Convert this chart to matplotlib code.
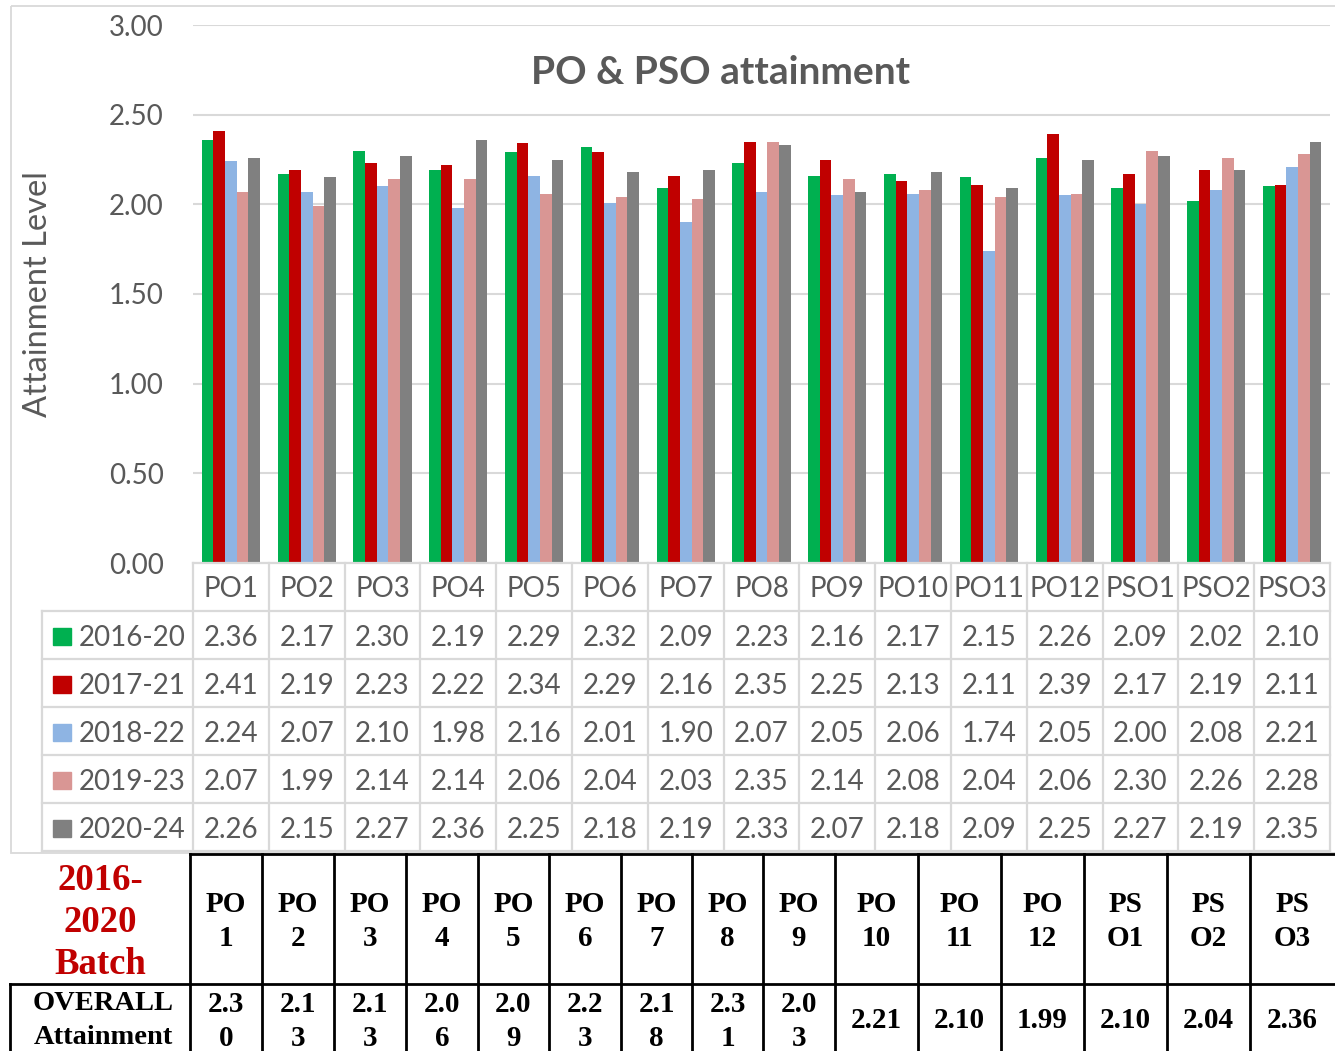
import matplotlib
matplotlib.use("Agg")
import matplotlib.pyplot as plt
from matplotlib import transforms
from matplotlib.lines import Line2D
from matplotlib.patches import Rectangle

# ---------------- data ----------------
categories = ["PO1", "PO2", "PO3", "PO4", "PO5", "PO6", "PO7", "PO8", "PO9",
              "PO10", "PO11", "PO12", "PSO1", "PSO2", "PSO3"]
series_names = ["2016-20", "2017-21", "2018-22", "2019-23", "2020-24"]
s2016_20 = [2.36, 2.17, 2.30, 2.19, 2.29, 2.32, 2.09, 2.23, 2.16, 2.17, 2.15, 2.26, 2.09, 2.02, 2.10]
s2017_21 = [2.41, 2.19, 2.23, 2.22, 2.34, 2.29, 2.16, 2.35, 2.25, 2.13, 2.11, 2.39, 2.17, 2.19, 2.11]
s2018_22 = [2.24, 2.07, 2.10, 1.98, 2.16, 2.01, 1.90, 2.07, 2.05, 2.06, 1.74, 2.05, 2.00, 2.08, 2.21]
s2019_23 = [2.07, 1.99, 2.14, 2.14, 2.06, 2.04, 2.03, 2.35, 2.14, 2.08, 2.04, 2.06, 2.30, 2.26, 2.28]
s2020_24 = [2.26, 2.15, 2.27, 2.36, 2.25, 2.18, 2.19, 2.33, 2.07, 2.18, 2.09, 2.25, 2.27, 2.19, 2.35]
series_values = [s2016_20, s2017_21, s2018_22, s2019_23, s2020_24]
colors = ["#00B050", "#C00000", "#8EB4E3", "#D99694", "#808080"]
y_ticks = [0.0, 0.5, 1.0, 1.5, 2.0, 2.5, 3.0]

batch_label = ["2016-", "2020", "Batch"]
overall_label = ["OVERALL", "Attainment"]
overall_values = [2.30, 2.13, 2.13, 2.06, 2.09, 2.23, 2.18, 2.31, 2.03, 2.21, 2.10, 1.99, 2.10, 2.04, 2.36]
title = "PO & PSO attainment"
ylabel = "Attainment Level"

# ---------------- layout ----------------
W, H = 1335, 1051
fig = plt.figure(figsize=(W / 100, H / 100), dpi=100)
px = transforms.Affine2D().scale(1 / W, -1 / H).translate(0, 1) + fig.transFigure

SANS = ["Lato", "DejaVu Sans"]
SERIF = ["Liberation Serif", "DejaVu Serif"]
GRAY_TXT = "#595959"
GRID = "#d9d9d9"
FS = 20

left, right, top, bottom = 193, 1330, 25, 563
ax = fig.add_axes([left / W, 1 - bottom / H, (right - left) / W, (bottom - top) / H])
n = len(categories)
x = list(range(n))
bw = 0.77 / len(series_values)
for j, (vals, col) in enumerate(zip(series_values, colors)):
    ax.bar([xi + (j - 2) * bw for xi in x], vals, width=bw, color=col, zorder=3)
ax.set_xlim(-0.5, n - 0.5)
ax.set_ylim(0, 3)
ax.set_yticks(y_ticks)
ax.set_yticklabels([f"{t:.2f}" for t in y_ticks], family=SANS, fontsize=FS, color=GRAY_TXT)
ax.set_xticks([])
ax.tick_params(axis="y", length=0, pad=21)
for sp in ax.spines.values():
    sp.set_visible(False)
ax.grid(axis="y", color=GRID, linewidth=1.5, zorder=0)
ax.set_axisbelow(True)
ax.patch.set_alpha(0)

# chart border
fig.add_artist(Rectangle((10.5, 5.5), 1340, 847, transform=px, fill=False,
                         edgecolor=GRID, linewidth=1.3, clip_on=False))

fig.text(721, 73, title, transform=px, family=SANS, fontsize=28, fontweight="bold",
         color=GRAY_TXT, ha="center", va="center")
fig.text(38, 294, ylabel, transform=px, family=SANS, fontsize=23.5, color=GRAY_TXT,
         ha="center", va="center", rotation=90)

# ---------------- Excel data table ----------------
bl = transforms.blended_transform_factory(ax.transData, px)
row_h = 48
tab_top = 563
rows_y = [tab_top + row_h * k for k in range(7)]  # 563 .. 851
fig.add_artist(Line2D([-0.5, n - 0.5], [tab_top, tab_top], transform=bl, color=GRID, lw=1.6, clip_on=False))
for yy in rows_y[1:]:
    fig.add_artist(Line2D([42, right], [yy, yy], transform=px, color=GRID, lw=1.6, clip_on=False))
for k in range(n + 1):
    fig.add_artist(Line2D([k - 0.5, k - 0.5], [tab_top, rows_y[-1]], transform=bl,
                          color=GRID, lw=1.6, clip_on=False))
fig.add_artist(Line2D([42, 42], [rows_y[1], rows_y[-1]], transform=px, color=GRID, lw=1.6, clip_on=False))

for i, c in enumerate(categories):
    fig.text(i, tab_top + row_h / 2 + 2, c, transform=bl, family=SANS, fontsize=FS,
             color=GRAY_TXT, ha="center", va="center")
for r, (name, vals, col) in enumerate(zip(series_names, series_values, colors)):
    yc = rows_y[r + 1] + row_h / 2 + 3
    fig.add_artist(Rectangle((53, yc - 10), 18, 17, transform=px, color=col, clip_on=False))
    fig.text(79, yc, name, transform=px, family=SANS, fontsize=FS, color=GRAY_TXT,
             ha="left", va="center")
    for i, v in enumerate(vals):
        fig.text(i, yc, f"{v:.2f}", transform=bl, family=SANS, fontsize=FS,
                 color=GRAY_TXT, ha="center", va="center")

# ---------------- Word table below ----------------
col_edges = [190, 262, 334, 406, 478, 549, 621, 692, 763, 835, 918, 1001, 1084, 1167, 1250, 1335]
r1_top, r2_top = 854, 984
LW = 2.0
fig.add_artist(Line2D([190, W + 5], [r1_top, r1_top], transform=px, color="black", lw=LW, clip_on=False))
fig.add_artist(Line2D([10, W + 5], [r2_top, r2_top], transform=px, color="black", lw=LW, clip_on=False))
for xe in col_edges[:-1]:
    fig.add_artist(Line2D([xe, xe], [r1_top, H + 5], transform=px, color="black", lw=LW, clip_on=False))
fig.add_artist(Line2D([10, 10], [r2_top, H + 5], transform=px, color="black", lw=LW, clip_on=False))

for k, s in enumerate(batch_label):
    fig.text(100, 880 + 42 * k, s, transform=px, family=SERIF, fontsize=26.5,
             fontweight="bold", color="#C00000", ha="center", va="center")
for k, s in enumerate(overall_label):
    fig.text(103, 1004 + 34 * k, s, transform=px, family=SERIF, fontsize=20.5,
             fontweight="bold", color="black", ha="center", va="center")

for i, c in enumerate(categories):
    xc = (col_edges[i] + col_edges[i + 1]) / 2
    lines = [c[:2], c[2:]]
    for k, s in enumerate(lines):
        fig.text(xc, 905 + 33 * k, s, transform=px, family=SERIF, fontsize=21,
                 fontweight="bold", color="black", ha="center", va="center")
    vs = f"{overall_values[i]:.2f}"
    if i < 9:
        for k, s in enumerate([vs[:3], vs[3:]]):
            fig.text(xc, 1004 + 34 * k, s, transform=px, family=SERIF, fontsize=21,
                     fontweight="bold", color="black", ha="center", va="center")
    else:
        fig.text(xc, 1021, vs, transform=px, family=SERIF, fontsize=21,
                 fontweight="bold", color="black", ha="center", va="center")

fig.savefig("out.png", dpi=100, facecolor="white")
